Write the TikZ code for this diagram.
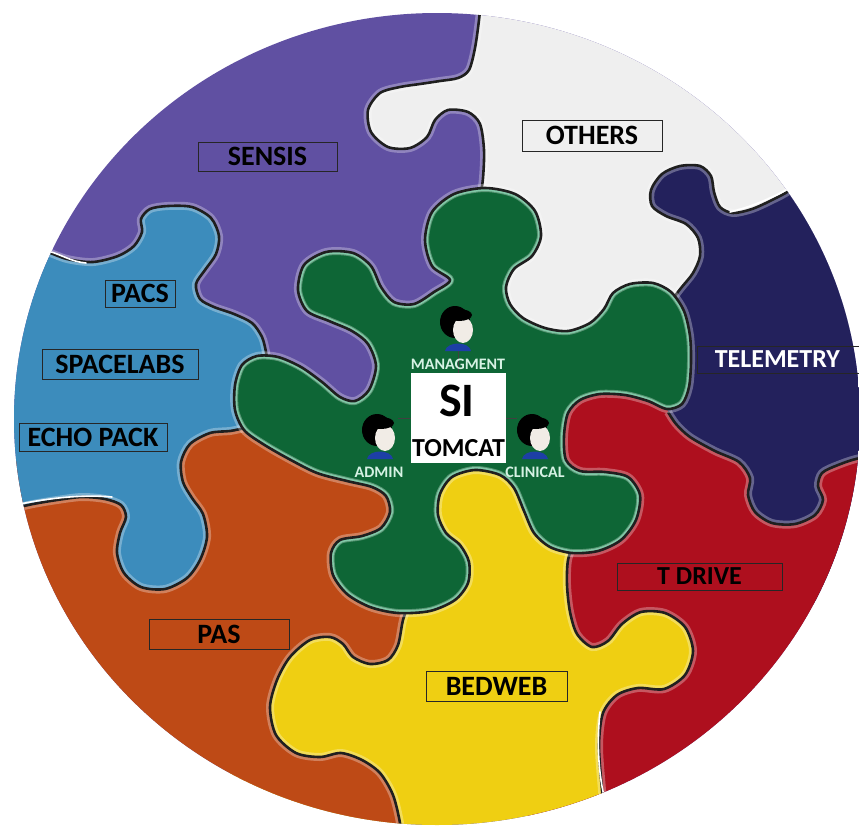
\documentclass[tikz,border=0pt]{standalone}
\usepackage{fontspec}
\setmainfont{Carlito}
\usetikzlibrary{positioning,calc}

\definecolor{pcpurple}{HTML}{6050A2}
\definecolor{pcwhite}{HTML}{EFEFEF}
\definecolor{pcnavy}{HTML}{23215C}
\definecolor{pcred}{HTML}{AE0F1E}
\definecolor{pcyellow}{HTML}{EFCF12}
\definecolor{pcorange}{HTML}{BE4A16}
\definecolor{pcblue}{HTML}{3C8CBC}
\definecolor{pcgreen}{HTML}{0E6636}
\definecolor{greenrim}{HTML}{4DB383}
\definecolor{mint}{HTML}{D6F2E4}
\definecolor{skin}{HTML}{F1ECE6}
\definecolor{shirt}{HTML}{1D3FA6}

% seams between the pieces (pixel grid, y downwards)
\def\cutA{(-20,240) (40,250) (67,259) (93,262) (118,256) (134,246) (142,232) (141,219) (150,209) (168,206) (192,207) (211,218) (219,236) (216,254) (205,270) (196,284) (200,299) (214,307) (234,314) (252,323) (262,337) (266,352) (268,365)}
\def\cutB{(245,428) (230,431) (210,433) (190,444) (181,462) (183,482) (192,498) (203,514) (207,537) (200,560) (187,578) (165,589) (141,587) (124,573) (117,553) (120,533) (126,517) (121,505) (105,499) (82,497) (57,500) (33,504) (15,508) (-20,515)}
\def\cutC{(410,600) (403,620) (398,645) (388,660) (370,664) (353,657) (343,644) (330,637) (310,640) (290,657) (277,680) (270,707) (276,735) (296,753) (320,757) (341,753) (362,760) (380,773) (393,795) (400,823) (403,850)}
\def\cutD{(575,540) (568,560) (567,585) (570,612) (577,634) (592,647) (608,641) (622,624) (641,612) (665,613) (685,627) (693,651) (685,675) (664,689) (638,688) (617,695) (603,713) (599,745) (602,790) (607,840)}
\def\cutE{(900,452) (860,458) (838,465) (822,473) (818,486) (823,500) (815,515) (795,524) (772,523) (755,512) (748,495) (750,478) (739,462) (715,451) (690,437) (676,424) (668,412)}
\def\cutF{(808,172) (790,190) (772,200) (752,209) (733,213) (720,207) (714,192) (711,176) (700,166) (680,166) (662,174) (651,190) (652,206) (666,216) (686,224) (698,238) (700,256) (693,273) (681,288) (672,300) (665,312)}
\def\cutG{(482,-10) (479,20) (475,48) (469,70) (458,78) (440,81) (420,84) (400,87) (380,93) (368,110) (371,132) (388,147) (410,148) (427,137) (435,120) (448,110) (468,112) (480,124) (484,150) (483,178) (480,200)}
\def\hub{(450,280) (432,266) (425,240) (432,212) (454,194) (485,188) (515,194) (535,211) (541,236) (532,256) (514,269) (506,287) (510,304) (523,318) (545,328) (568,331) (590,323) (604,309) (613,293) (630,284) (653,283) (671,292) (684,311) (690,336) (691,362) (689,387) (682,404) (667,409) (648,401) (625,395) (600,394) (580,400) (568,413) (564,436) (566,460) (580,471) (605,472) (628,477) (640,495) (636,520) (621,540) (598,551) (572,553) (550,547) (534,533) (524,511) (514,488) (500,475) (475,470) (452,477) (440,494) (438,515) (446,533) (460,545) (469,562) (468,583) (455,600) (430,611) (398,613) (370,607) (347,594) (333,575) (331,553) (340,540) (362,536) (381,528) (390,512) (386,496) (372,487) (347,481) (317,473) (289,459) (263,444) (244,430) (235,410) (235,385) (242,365) (257,356) (278,357) (301,367) (322,382) (340,397) (355,401) (369,390) (376,366) (368,344) (352,331) (329,321) (307,311) (298,290) (304,265) (326,252) (353,253) (371,266) (381,287) (394,302) (414,304) (434,292)}

\begin{document}
\begin{tikzpicture}[x=1pt,y=-1pt,
  seam/.style={draw=black!88,line width=2.6pt},
  glow/.style={draw=white,draw opacity=0.3,line width=8pt},
  glint/.style={draw=white,line width=1.6pt,line cap=round},
  tag/.style={draw=black!85,line width=0.7pt,inner sep=0pt,minimum height=29pt,
    font=\fontsize{28}{30}\selectfont\bfseries},
  who/.style={text=mint,font=\fontsize{16}{18}\selectfont\bfseries},
  figure/.style={minimum width=36pt,minimum height=46pt,inner sep=0pt},
  link/.style={draw=black!75,line width=0.6pt},
  person/.pic={
    \fill[black] (-3,-6) ellipse [x radius=15,y radius=16];
    \fill[skin] (5,2) ellipse [x radius=10,y radius=13];
    \fill[black] (1,-13) ellipse [x radius=13,y radius=6];
    \fill[shirt] (-13,23) .. controls (-11,13) and (11,13) .. (13,23) -- cycle;
  }]

\useasboundingbox (0,0) rectangle (859,825);

\begin{scope}
  \clip (437,419) ellipse [x radius=423,y radius=406];
  \fill[pcpurple] (0,0) rectangle (859,825);

  % outer ring, each piece laid over the one before
  \fill[pcwhite] plot[smooth] coordinates {\cutG} -- (500,345) -- (950,345) -- (950,-50) -- cycle;
  \fill[pcnavy] plot[smooth] coordinates {\cutF} -- (662,360) -- (655,430) -- (900,700) -- (950,700) -- (950,100) -- cycle;
  \fill[pcred] plot[smooth] coordinates {\cutE} -- (660,380) -- (560,380) -- (540,440) -- (525,900) -- (950,900) -- cycle;
  \fill[pcyellow] plot[smooth] coordinates {\cutD} -- (607,900) -- (230,900) -- (230,600) -- (320,500) -- (440,440) -- (520,450) -- cycle;
  \fill[pcorange] plot[smooth] coordinates {\cutC} -- (403,900) -- (-50,900) -- (-50,470) -- (180,430) -- (240,415) -- (330,445) -- (420,470) -- (420,560) -- cycle;
  \fill[pcblue] plot[smooth] coordinates {\cutA} -- (285,395) -- plot[smooth] coordinates {\cutB} -- cycle;

  \foreach \c in {\cutA,\cutB,\cutC,\cutD,\cutE,\cutF,\cutG}{
    \draw[glow] plot[smooth] coordinates {\c};
    \draw[seam] plot[smooth] coordinates {\c};
  }

  % bright cracks where the pieces meet the rim
  \draw[glint] (48,251) .. controls (60,254) and (72,262) .. (86,263);
  \draw[glint] (20,504) .. controls (45,499) and (80,494) .. (112,497);
  \draw[glint] (600,712) .. controls (597,740) and (598,770) .. (604,796);
  \draw[glint] (788,189) .. controls (770,199) and (750,207) .. (730,212);

  % centre piece
  \fill[pcgreen] plot[smooth cycle] coordinates {\hub};
  \begin{scope}
    \clip plot[smooth cycle] coordinates {\hub};
    \draw[greenrim,line width=6pt] plot[smooth cycle] coordinates {\hub};
  \end{scope}
  \draw[glow] plot[smooth cycle] coordinates {\hub};
  \draw[seam] plot[smooth cycle] coordinates {\hub};
\end{scope}

% labels
\node[tag,minimum width=139pt] (sensis) at (267.5,156.5) {SENSIS};
\node[tag,minimum width=140pt,minimum height=31pt] (others) at (592,135.5) {OTHERS};
\node[tag,minimum width=70pt,minimum height=27pt] (pacs) at (140,293.5) {PACS};
\node[tag,minimum width=156pt,minimum height=30pt] (spacelabs) at (120,364) {SPACELABS};
\node[tag,minimum width=148pt,minimum height=28pt] (echo) at (93,437) {ECHO PACK};
\node[tag,minimum width=140pt,minimum height=30pt] (pas) at (219,634) {PAS};
\node[tag,minimum width=141pt,minimum height=30pt] (bedweb) at (496.5,686) {BEDWEB};
\node[tag,minimum width=165pt,minimum height=27pt,font=\fontsize{26}{28}\selectfont\bfseries] (tdrive) at (699.5,576.5) {T DRIVE};
\node[tag,anchor=west,text=white,minimum width=180pt,minimum height=27pt,
  font=\fontsize{26}{28}\selectfont\bfseries] (telemetry) at (697,359.5) {\hspace*{-20pt}TELEMETRY};

% SI box and its users
\node[fill=white,minimum width=95pt,minimum height=90pt,inner sep=0pt] (si) at (458.5,418) {};
\node[font=\fontsize{48}{50}\selectfont\bfseries] (silbl) at (457,401) {SI};
\node[font=\fontsize{26}{28}\selectfont\bfseries] (tomcat) at (458.5,448.5) {TOMCAT};

\node[figure] (mgr) at (458,328) {};
\node[figure] (admin) at (380,436) {};
\node[figure] (clin) at (535,436) {};
\draw[link] (mgr.south) -- (mgr.south |- si.north);
\draw[link] (admin.east |- si.west) -- (si.west);
\draw[link] (si.east) -- (clin.west |- si.east);
\pic at (mgr) {person};
\pic at (admin) {person};
\pic at (clin) {person};

\node[who] (mgrname) at (458,364) {MANAGMENT};
\node[who] (adminname) at (379,472) {ADMIN};
\node[who] (clinname) at (535,472) {CLINICAL};
\end{tikzpicture}
\end{document}
